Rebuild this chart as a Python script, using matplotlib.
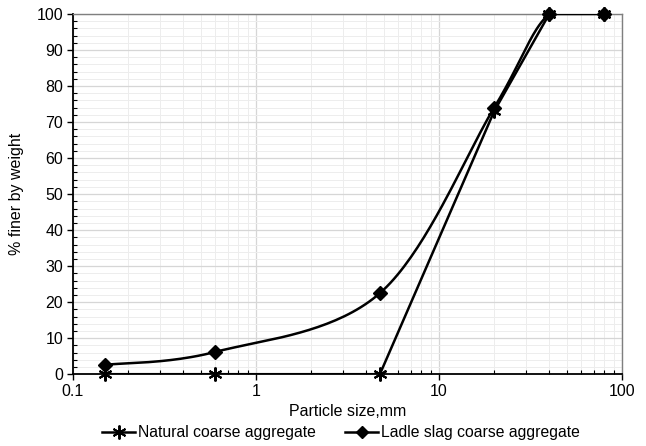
import numpy as np
import matplotlib
matplotlib.use("Agg")
import matplotlib.pyplot as plt
from matplotlib.ticker import MultipleLocator, LogLocator, NullFormatter, FuncFormatter
from matplotlib.lines import Line2D

plt.rcParams["font.family"] = ["Liberation Sans", "DejaVu Sans"]

sizes = [0.15, 0.6, 4.75, 20, 40, 80]
natural = [0, 0, 0, 73, 100, 100]
slag = [2.6, 6.2, 22.5, 74, 100, 100]

def smooth(xs, ys, n=40):
    # Excel-like smoothed line: Bezier segments with 1/6 tangents in log-x space
    lx = np.log10(xs); y = np.asarray(ys, float)
    px, py = [], []
    for i in range(len(lx) - 1):
        p0 = (lx[i-1] if i > 0 else lx[i], y[i-1] if i > 0 else y[i])
        p1 = (lx[i], y[i]); p2 = (lx[i+1], y[i+1])
        p3 = (lx[i+2], y[i+2]) if i + 2 < len(lx) else p2
        c1 = (p1[0] + (p2[0]-p0[0])/6, p1[1] + (p2[1]-p0[1])/6)
        c2 = (p2[0] - (p3[0]-p1[0])/6, p2[1] - (p3[1]-p1[1])/6)
        t = np.linspace(0, 1, n)
        bx = (1-t)**3*p1[0] + 3*(1-t)**2*t*c1[0] + 3*(1-t)*t**2*c2[0] + t**3*p2[0]
        by = (1-t)**3*p1[1] + 3*(1-t)**2*t*c1[1] + 3*(1-t)*t**2*c2[1] + t**3*p2[1]
        px.extend(bx); py.extend(by)
    return 10**np.array(px), np.array(py)

fig = plt.figure(figsize=(6.46, 4.46), dpi=100)
ax = fig.add_axes([0.113, 0.161, 0.85, 0.8076])
ax.set_xscale("log")
ax.set_xlim(0.1, 100)
ax.set_ylim(0, 100)

ax.set_axisbelow(True)
ax.grid(which="major", color="#d6d6d6", lw=0.9)
ax.grid(which="minor", color="#ededed", lw=0.7)

ax.plot(sizes, natural, color="black", lw=1.8, zorder=3, clip_on=True)
ax.plot(sizes, natural, ls="none", marker=(6, 2, 0), ms=10, mec="black", mew=1.5,
        zorder=4, clip_on=False)
sx, sy = smooth(sizes, slag)
ax.plot(sx, sy, color="black", lw=1.8, zorder=3)
ax.plot(sizes, slag, ls="none", marker="D", ms=7.5, color="black", zorder=4, clip_on=False)

ax.yaxis.set_major_locator(MultipleLocator(10))
ax.yaxis.set_minor_locator(MultipleLocator(2))
ax.xaxis.set_major_locator(LogLocator(base=10))
ax.xaxis.set_minor_locator(LogLocator(base=10, subs=np.arange(2, 10)))
ax.xaxis.set_minor_formatter(NullFormatter())
ax.xaxis.set_major_formatter(FuncFormatter(lambda v, p: f"{v:g}"))

ax.tick_params(which="major", direction="out", length=4, width=1, labelsize=11.5, pad=3)
ax.tick_params(which="minor", direction="in", length=3, width=0.8)
for s in ["left", "bottom"]:
    ax.spines[s].set_color("black"); ax.spines[s].set_linewidth(1.3)
for s in ["top", "right"]:
    ax.spines[s].set_color("#7f7f7f"); ax.spines[s].set_linewidth(1.0)

ax.set_xlabel("Particle size,mm", fontsize=11.5, labelpad=4)
ax.set_ylabel("% finer by weight", fontsize=11.5, labelpad=9)

h1 = Line2D([], [], color="black", lw=1.8, marker=(6, 2, 0), ms=10, mew=1.4)
h2 = Line2D([], [], color="black", lw=1.8, marker="D", ms=6)
fig.legend([h1, h2], ["Natural coarse aggregate", "Ladle slag coarse aggregate"],
           loc="center", bbox_to_anchor=(0.528, 0.03), ncol=2, frameon=False,
           fontsize=11.3, handlelength=2.1, handletextpad=0.15, columnspacing=1.9)

fig.savefig("out.png", dpi=100)
